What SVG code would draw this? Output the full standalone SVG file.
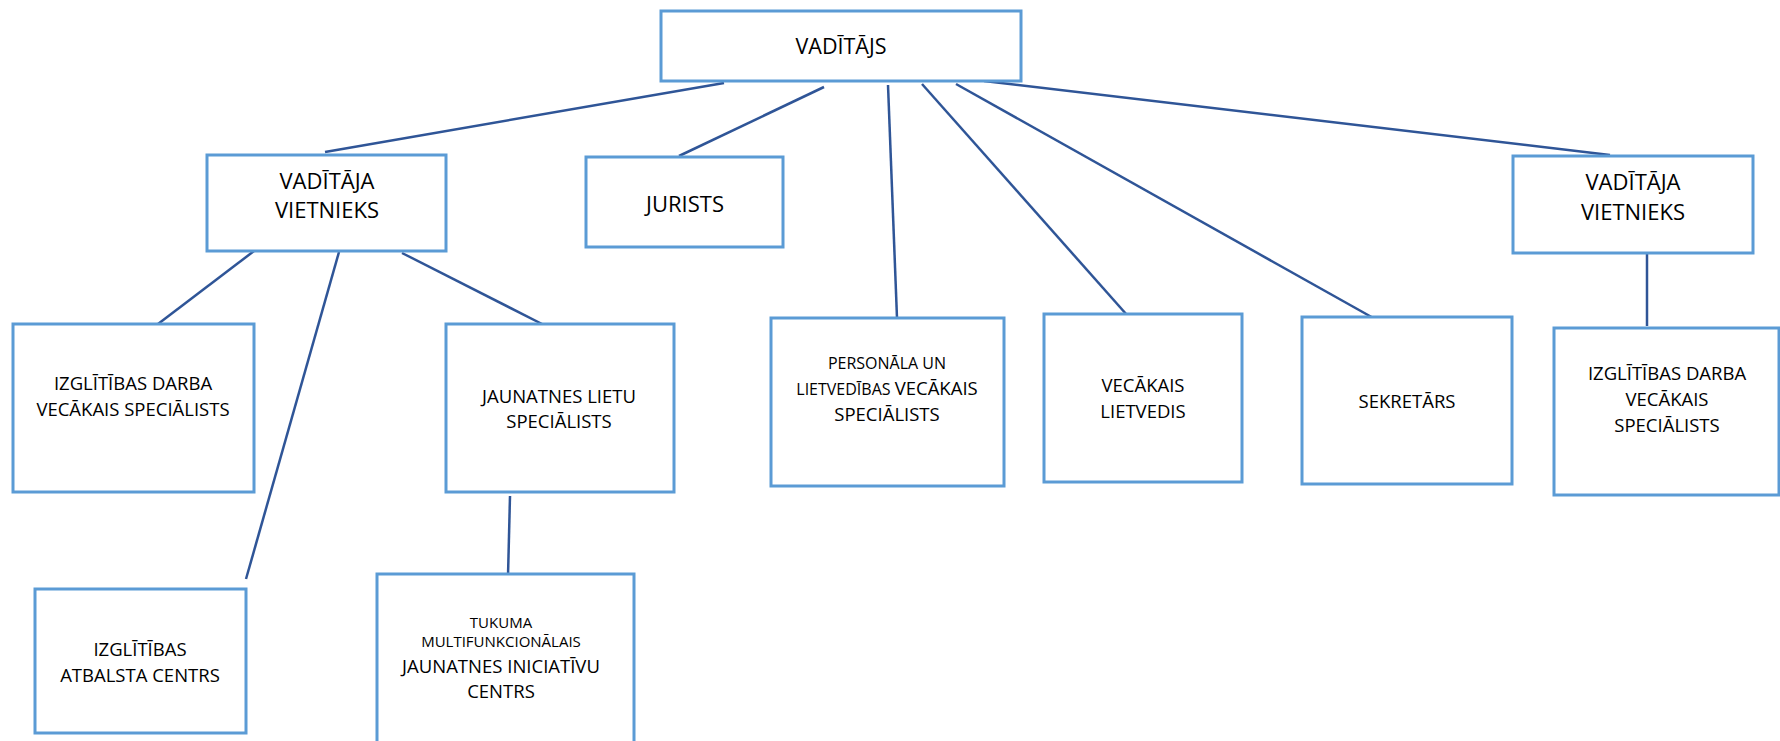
<svg xmlns="http://www.w3.org/2000/svg" width="1780" height="741" viewBox="0 0 1780 741">
<style>
.box{fill:#fff;stroke:#5B9BD5;stroke-width:3}
.t{font-family:"Open Sans","Noto Sans",sans-serif;font-size:18.5px;fill:#000;text-anchor:middle}
.big{font-size:22px}
.sm{font-size:15px}
.con line{stroke:#2F5597;stroke-width:2.5;stroke-linecap:butt}
</style>
<rect width="1780" height="741" fill="#fff"/>
<g class="con">
<line x1="724" y1="83" x2="325" y2="152"/>
<line x1="824" y1="87" x2="679" y2="156"/>
<line x1="888" y1="85" x2="897" y2="318"/>
<line x1="922" y1="84" x2="1127" y2="315"/>
<line x1="956" y1="84" x2="1384" y2="324"/>
<line x1="984" y1="81" x2="1610" y2="155"/>
<line x1="254" y1="251" x2="158" y2="324"/>
<line x1="339" y1="252" x2="246" y2="579"/>
<line x1="402" y1="253" x2="542" y2="324"/>
<line x1="510" y1="496" x2="508" y2="576"/>
<line x1="1647" y1="254" x2="1647" y2="326"/>
</g>
<g id="vaditajs">
<rect class="box" x="661" y="11" width="360" height="70"/>
<text class="t" x="841" y="54" style="font-size:21.5px">VADĪTĀJS</text>
</g>
<g id="vietnieks1">
<rect class="box" x="207" y="155" width="239" height="96"/>
<text class="t big" x="327" y="189">VADĪTĀJA</text>
<text class="t big" x="327" y="218">VIETNIEKS</text>
</g>
<g id="jurists">
<rect class="box" x="586" y="157" width="197" height="90"/>
<text class="t big" x="685" y="212">JURISTS</text>
</g>
<g id="izglitibas-darba1">
<rect class="box" x="13" y="324" width="241" height="168"/>
<text class="t" x="133" y="390">IZGLĪTĪBAS DARBA</text>
<text class="t" x="133" y="416">VECĀKAIS SPECIĀLISTS</text>
</g>
<g id="jaunatnes-lietu">
<rect class="box" x="446" y="324" width="228" height="168"/>
<text class="t" x="559" y="403">JAUNATNES LIETU</text>
<text class="t" x="559" y="428">SPECIĀLISTS</text>
</g>
<g id="atbalsta-centrs">
<rect class="box" x="35" y="589" width="211" height="144"/>
<text class="t" x="140" y="656">IZGLĪTĪBAS</text>
<text class="t" x="140" y="682">ATBALSTA CENTRS</text>
</g>
<g id="tukuma">
<rect class="box" x="377" y="574" width="257" height="180"/>
<text class="t sm" x="501" y="628">TUKUMA</text>
<text class="t sm" x="501" y="647">MULTIFUNKCIONĀLAIS</text>
<text class="t" x="501" y="673">JAUNATNES INICIATĪVU</text>
<text class="t" x="501" y="698">CENTRS</text>
</g>
<g id="personala">
<rect class="box" x="771" y="318" width="233" height="168"/>
<text class="t" x="887" y="369" style="font-size:16px">PERSONĀLA UN</text>
<text class="t" x="887" y="395"><tspan style="font-size:16px">LIETVEDĪBAS </tspan>VECĀKAIS</text>
<text class="t" x="887" y="421">SPECIĀLISTS</text>
</g>
<g id="lietvedis">
<rect class="box" x="1044" y="314" width="198" height="168"/>
<text class="t" x="1143" y="392">VECĀKAIS</text>
<text class="t" x="1143" y="418">LIETVEDIS</text>
</g>
<g id="sekretars">
<rect class="box" x="1302" y="317" width="210" height="167"/>
<text class="t" x="1407" y="408">SEKRETĀRS</text>
</g>
<g id="vietnieks2">
<rect class="box" x="1513" y="156" width="240" height="97"/>
<text class="t big" x="1633" y="190">VADĪTĀJA</text>
<text class="t big" x="1633" y="220">VIETNIEKS</text>
</g>
<g id="izglitibas-darba2">
<rect class="box" x="1554" y="328" width="225" height="167"/>
<text class="t" x="1667" y="380">IZGLĪTĪBAS DARBA</text>
<text class="t" x="1667" y="406">VECĀKAIS</text>
<text class="t" x="1667" y="432">SPECIĀLISTS</text>
</g>
</svg>
